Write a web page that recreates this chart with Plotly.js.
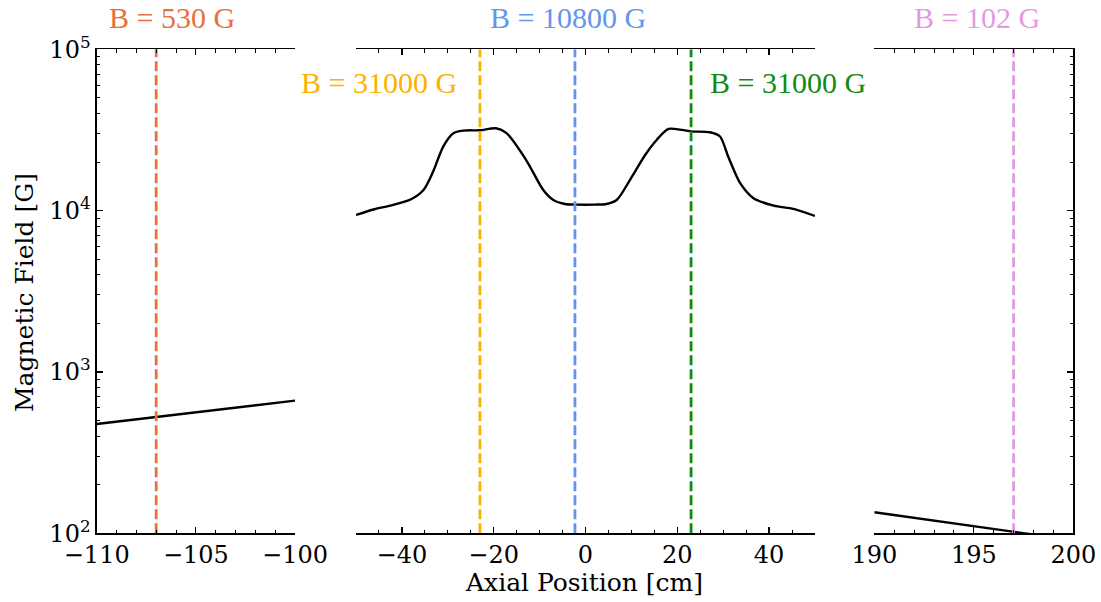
<!DOCTYPE html>
<html>
<head>
<meta charset="utf-8">
<script src="https://cdn.plot.ly/plotly-3.0.1.min.js"></script>
<style>html,body{margin:0;padding:0;background:#fff;}#chart{width:1101px;height:602px;}</style>
</head>
<body>
<div id="chart"></div>
<script>
// ---- data ----
const leftX = [-110, -108, -106, -104, -102, -100];
const leftB = [476, 509, 544, 581, 621, 664];

const midX = [-50, -46, -42.5, -38, -35.3, -33.2, -31, -28.8, -26.6, -23, -19.5, -17.2, -13.9, -12.1, -9.2, -7, -4.5, -2, 2, 4.6, 6.8, 9.7, 13, 15.5, 18.1, 23, 27.1, 29.3, 31.1, 33.7, 36.6, 41, 45.3, 50];
const midB = [9400, 10200, 10750, 11770, 13430, 17450, 24950, 30200, 31350, 31500, 32400, 30200, 22700, 18760, 13430, 11640, 11000, 10900, 10900, 11000, 11640, 15520, 22130, 27400, 32100, 31000, 30600, 28800, 21600, 14800, 11940, 10740, 10250, 9270];

const rightX = [190, 192, 194, 196, 197, 198, 200];
const rightB = [135, 124.7, 115.1, 106.3, 102.2, 98.2, 90.7];

const markerX = [-107, -23, -2.3, 23, 197];
const markerB = [530, 31000, 10800, 31000, 102];
const markerPanel = ['x', 'x2', 'x2', 'x2', 'x3'];
const markerColors = ['#E8703A', '#FFB000', '#6495ED', '#118C11', '#E39BDD'];
const markerLabels = markerB.map(b => 'B = ' + b + ' G');

const yRange = [100, 100000];
const majorY = [100, 1000, 10000, 100000];
const majorYText = ['10<sup>2</sup>', '10<sup>3</sup>', '10<sup>4</sup>', '10<sup>5</sup>'];
const minorY = [];
[100, 1000, 10000].forEach(d => { for (let k = 2; k <= 9; k++) minorY.push(k * d); });

// ---- layout helpers ----
const W = 1101, H = 602;
const px = v => v / W;
const py = v => 1 - v / H;
const yDom = [py(533.3), py(49.3)];
const tickFont = {family: 'DejaVu Serif', size: 24, color: '#000'};

const traces = [];
traces.push({x: leftX, y: leftB, xaxis: 'x', yaxis: 'y', mode: 'lines', line: {color: '#000', width: 2.4}, hoverinfo: 'skip'});
traces.push({x: midX, y: midB, xaxis: 'x2', yaxis: 'y2', mode: 'lines', line: {color: '#000', width: 2.4, shape: 'spline', smoothing: 0.8}, hoverinfo: 'skip'});
traces.push({x: rightX, y: rightB, xaxis: 'x3', yaxis: 'y3', mode: 'lines', line: {color: '#000', width: 2.4}, hoverinfo: 'skip'});
markerX.forEach((mx, i) => {
  const xa = markerPanel[i];
  const ya = xa.replace('x', 'y');
  traces.push({x: [mx, mx], y: yRange, xaxis: xa, yaxis: ya, mode: 'lines',
    line: {color: markerColors[i], width: 2.8, dash: '10px,4px'}, hoverinfo: 'skip'});
});

function xAxis(dom, range, dtick, tick0, minorDtick, anchor) {
  return {domain: dom, range: range, anchor: anchor, showline: true, linecolor: '#000', linewidth: 1.3,
    mirror: 'allticks', ticks: 'inside', ticklen: 6, tickwidth: 1.2, tickcolor: '#000',
    tick0: tick0, dtick: dtick, showgrid: false, zeroline: false, tickfont: tickFont,
    minor: {ticks: 'inside', ticklen: 3.5, tickwidth: 1, tickcolor: '#000', dtick: minorDtick, tick0: tick0, showgrid: false},
    fixedrange: true};
}
function yAxis(anchor, opts) {
  return Object.assign({domain: yDom, type: 'log', range: [2, 5], anchor: anchor, showgrid: false, zeroline: false,
    tickmode: 'array', tickvals: majorY, ticktext: majorYText, tickfont: tickFont, fixedrange: true}, opts);
}

const annotations = [
  {text: markerLabels[0], x: px(172), y: py(18), color: markerColors[0]},
  {text: markerLabels[1], x: px(379), y: py(83), color: markerColors[1]},
  {text: markerLabels[2], x: px(568), y: py(18), color: markerColors[2]},
  {text: markerLabels[3], x: px(788), y: py(83), color: markerColors[3]},
  {text: markerLabels[4], x: px(977), y: py(18), color: markerColors[4]}
].map(a => ({text: a.text, x: a.x, y: a.y, xref: 'paper', yref: 'paper', xanchor: 'center', yanchor: 'middle',
  showarrow: false, font: {family: 'Liberation Serif', size: 30, color: a.color}}));

annotations.push({text: 'Axial Position [cm]', x: px(584), y: py(582), xref: 'paper', yref: 'paper',
  xanchor: 'center', yanchor: 'middle', showarrow: false, font: {family: 'DejaVu Serif', size: 25, color: '#000'}});
annotations.push({text: 'Magnetic Field [G]', x: px(24), y: py(293), xref: 'paper', yref: 'paper', textangle: -90,
  xanchor: 'center', yanchor: 'middle', showarrow: false, font: {family: 'DejaVu Serif', size: 25, color: '#000'}});

const layout = {
  width: W, height: H, margin: {l: 0, r: 0, t: 0, b: 0},
  paper_bgcolor: '#fff', plot_bgcolor: '#fff', showlegend: false,
  xaxis: xAxis([px(96.7), px(295)], [-110, -100], 5, -110, 1, 'y'),
  xaxis2: xAxis([px(356), px(815)], [-50, 50], 20, 0, 5, 'y2'),
  xaxis3: xAxis([px(874.3), px(1073.3)], [190, 200], 5, 190, 1, 'y3'),
  yaxis: yAxis('x', {showline: true, linecolor: '#000', linewidth: 1.3, ticks: 'inside', ticklen: 6, tickwidth: 1.2, tickcolor: '#000',
    showticklabels: true, minor: {tickmode: 'array', tickvals: minorY, ticks: 'inside', ticklen: 3.5, tickwidth: 1, tickcolor: '#000', showgrid: false}}),
  yaxis2: yAxis('x2', {showline: false, ticks: '', showticklabels: false}),
  yaxis3: yAxis('x3', {side: 'right', showline: true, linecolor: '#000', linewidth: 1.3, ticks: 'inside', ticklen: 6, tickwidth: 1.2, tickcolor: '#000',
    showticklabels: false, minor: {tickmode: 'array', tickvals: minorY, ticks: 'inside', ticklen: 3.5, tickwidth: 1, tickcolor: '#000', showgrid: false}}),
  annotations: annotations
};

Plotly.newPlot('chart', traces, layout, {displayModeBar: false, staticPlot: true});
</script>
</body>
</html>
